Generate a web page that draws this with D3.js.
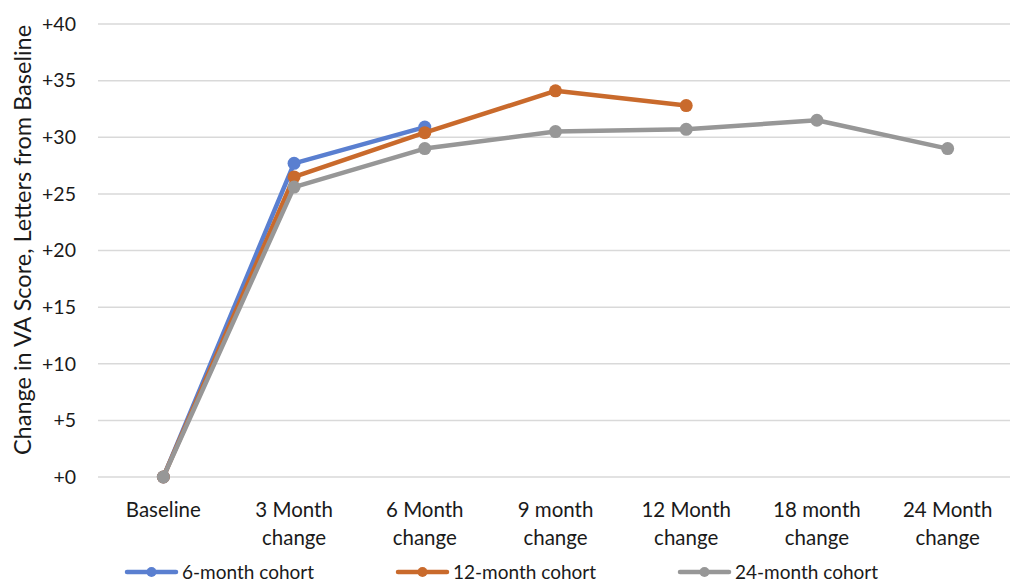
<!DOCTYPE html>
<html>
<head>
<meta charset="utf-8">
<script src="https://cdn.jsdelivr.net/npm/d3@7"></script>
<style>
  html, body { margin: 0; padding: 0; background: #fff; }
  svg { display: block; }
  text { font-family: Lato, "Open Sans", sans-serif; fill: #1a1a1a; }
</style>
</head>
<body>
<svg id="chart" width="1010" height="583"></svg>
<script>
// Visit time points along the x axis
const categories = [
  ["Baseline"],
  ["3 Month", "change"],
  ["6 Month", "change"],
  ["9 month", "change"],
  ["12 Month", "change"],
  ["18 month", "change"],
  ["24 Month", "change"]
];

// Mean change in VA letters by cohort (null = not followed that far)
const cohort6 = [0, 27.7, 30.9, null, null, null, null];
const cohort12 = [0, 26.5, 30.4, 34.1, 32.8, null, null];
const cohort24 = [0, 25.6, 29.0, 30.5, 30.7, 31.5, 29.0];

const seriesNames = ["6-month cohort", "12-month cohort", "24-month cohort"];
const seriesColors = ["#5a7fd0", "#c96a2c", "#979797"];

const yTicks = [0, 5, 10, 15, 20, 25, 30, 35, 40];

const svg = d3.select("#chart");
const margin = { left: 98, top: 24 };
const W = 1010;

const x = d3.scaleBand()
  .domain(d3.range(categories.length))
  .range([margin.left, 1013])
  .paddingInner(0).paddingOuter(0);

const y = d3.scaleLinear()
  .domain([0, 40])
  .range([477, 24]);

// horizontal gridlines
svg.append("g")
  .selectAll("line")
  .data(yTicks)
  .join("line")
  .attr("x1", margin.left)
  .attr("x2", W)
  .attr("y1", d => y(d))
  .attr("y2", d => y(d))
  .attr("stroke", "#d9d9d9")
  .attr("stroke-width", 1.5);

// y axis tick labels
const yAxis = d3.axisLeft(y)
  .tickValues(yTicks)
  .tickFormat(d => "+" + d)
  .tickSize(0)
  .tickPadding(22);
const yg = svg.append("g")
  .attr("transform", `translate(${margin.left},0)`)
  .call(yAxis);
yg.select(".domain").remove();
yg.selectAll("text")
  .attr("font-size", 19.5)
  .attr("font-family", "Lato, 'Open Sans', sans-serif")
  .attr("fill", "#1a1a1a");

// category labels (two lines)
const xg = svg.append("g");
categories.forEach((lines, i) => {
  const cx = x(i) + x.bandwidth() / 2;
  const t = xg.append("text")
    .attr("x", cx)
    .attr("y", 517)
    .attr("text-anchor", "middle")
    .attr("font-size", 20.5);
  lines.forEach((ln, j) => {
    t.append("tspan")
      .attr("x", cx)
      .attr("dy", j === 0 ? 0 : 28)
      .text(ln);
  });
});

// y axis title
svg.append("text")
  .attr("transform", "translate(31,240) rotate(-90)")
  .attr("text-anchor", "middle")
  .attr("font-size", 23.5)
  .text("Change in VA Score, Letters from Baseline");

// series lines and markers
const allSeries = [cohort6, cohort12, cohort24];
const line = d3.line()
  .defined(d => d != null)
  .x((d, i) => x(i) + x.bandwidth() / 2)
  .y(d => y(d));

allSeries.forEach((vals, s) => {
  const g = svg.append("g");
  g.append("path")
    .datum(vals)
    .attr("d", line)
    .attr("fill", "none")
    .attr("stroke", seriesColors[s])
    .attr("stroke-width", 4.5)
    .attr("stroke-linejoin", "round")
    .attr("stroke-linecap", "round");
  g.selectAll("circle")
    .data(vals.map((v, i) => ({ v, i })).filter(d => d.v != null))
    .join("circle")
    .attr("cx", d => x(d.i) + x.bandwidth() / 2)
    .attr("cy", d => y(d.v))
    .attr("r", 6.5)
    .attr("fill", seriesColors[s]);
});

// legend
const legendX = [127, 398, 680];
seriesNames.forEach((name, s) => {
  const g = svg.append("g").attr("transform", `translate(${legendX[s]},572)`);
  g.append("line")
    .attr("x1", 0).attr("x2", 49)
    .attr("stroke", seriesColors[s])
    .attr("stroke-width", 4.5)
    .attr("stroke-linecap", "round");
  g.append("circle")
    .attr("cx", 24.5).attr("r", 5)
    .attr("fill", seriesColors[s]);
  g.append("text")
    .attr("x", 55)
    .attr("y", 7)
    .attr("font-size", 19)
    .text(name);
});
</script>
</body>
</html>
